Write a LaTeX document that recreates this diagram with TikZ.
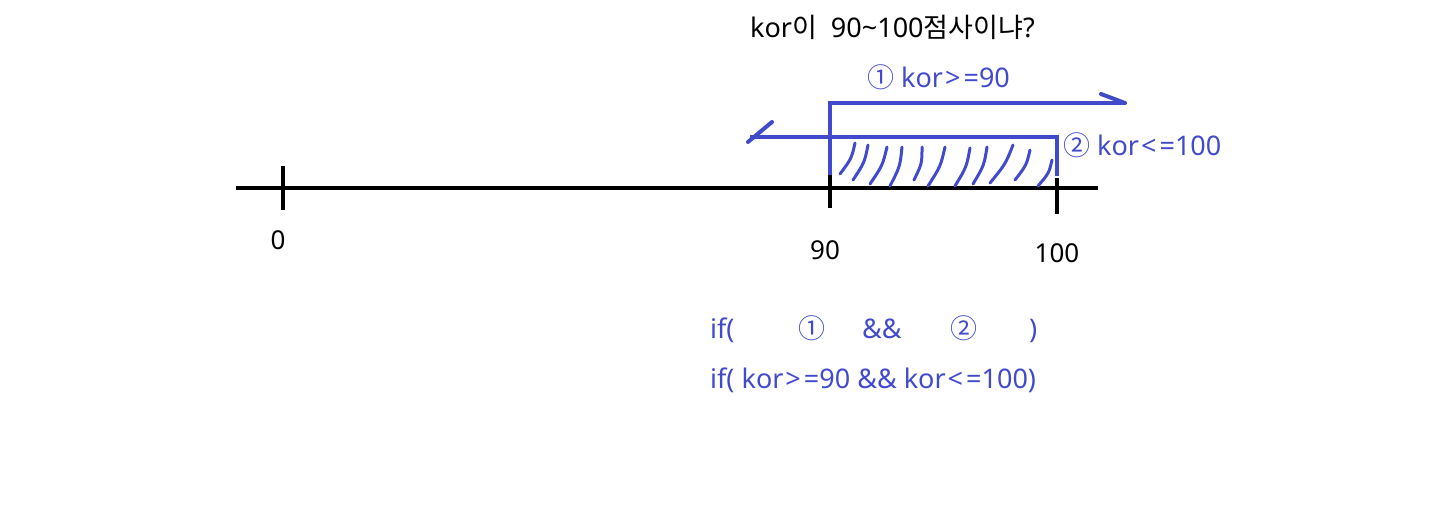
\documentclass[tikz,border=0pt]{standalone}
\usepackage{fontspec}
\setmainfont{Noto Sans}
\newfontfamily\krfont{Noto Sans CJK KR}
\usepackage{tikz}
\usepackage{xcolor}
\definecolor{penblue}{RGB}{66,74,204}
\newcommand{\gesign}{\kern2pt>\kern3pt=}
\newcommand{\lesign}{\kern2pt<\kern3pt=}

\begin{document}
\begin{tikzpicture}[x=1pt,y=-1pt]
  \tikzset{axisline/.style={draw=black,line width=4pt}}
  \tikzset{penline/.style={draw=penblue,line width=4pt}}
  \tikzset{hatchline/.style={draw=penblue,line width=3pt,line cap=round}}
  \tikzset{blacklabel/.style={font=\fontsize{26}{30}\selectfont,inner sep=0pt,text=black}}
  \tikzset{bluelabel/.style={font=\fontsize{27}{32}\selectfont,inner sep=0pt,text=penblue}}
  \useasboundingbox (0,0) rectangle (1440,532);
  % number line
  \coordinate (axl) at (236,188);
  \coordinate (axr) at (1098,188);
  \coordinate (t0a) at (283,166);
  \coordinate (t0b) at (283,210);
  \coordinate (t90a) at (830,175);
  \coordinate (t90b) at (830,208);
  \coordinate (t100a) at (1057,178);
  \coordinate (t100b) at (1057,214);
  \draw[axisline] (axl) -- (axr);
  \draw[axisline] (t0a) -- (t0b);
  \draw[axisline] (t90a) -- (t90b);
  \draw[axisline] (t100a) -- (t100b);
  \node[blacklabel,anchor=base] (l0) at (278,249) {0};
  \node[blacklabel,anchor=base] (l90) at (825,259) {90};
  \node[blacklabel,anchor=base] (l100) at (1057,262) {100};
  % question
  \node[blacklabel,font=\fontsize{27}{32}\selectfont,anchor=base west] (title) at (750,38) {kor{\krfont 이} \ 90\textasciitilde100{\krfont 점사이냐}?};
  % condition 1
  \coordinate (c1a) at (830,175);
  \coordinate (c1b) at (830,103);
  \coordinate (c1c) at (1125,103);
  \coordinate (c1d) at (1101,94);
  \draw[penline] (c1a) -- (c1b) -- (c1c);
  \draw[penline,line cap=round] (c1d) -- (c1c);
  \node[bluelabel,anchor=base west] (cond1) at (867,88) {{\krfont ①} kor\gesign90};
  % condition 2
  \coordinate (c2a) at (1057,176);
  \coordinate (c2b) at (1057,137);
  \coordinate (c2c) at (750,137);
  \coordinate (c2d) at (748,142);
  \coordinate (c2e) at (772,122);
  \draw[penline] (c2a) -- (c2b) -- (c2c);
  \draw[penline,line cap=round] (c2d) -- (c2e);
  \node[bluelabel,anchor=base west] (cond2) at (1063,156) {{\krfont ②} kor\lesign100};
  % hatching
  \foreach \xa/\ya/\xb/\yb in {855/143/840/174, 868/145/853/180, 887/147/870/184,
      902/147/890/186, 922/147/914/180, 945/147/928/186, 970/148/955/186,
      987/147/973/184, 1013/145/990/183, 1030/150/1015/180, 1052/160/1038/186}
    \draw[hatchline] (\xa,\ya) .. controls ({0.5*(\xa+\xb)+4},{0.5*(\ya+\yb)}) .. (\xb,\yb);
  % code lines
  \node[bluelabel,anchor=base west] (if1) at (710,338) {if(};
  \node[bluelabel,anchor=base west] (n1) at (798,338) {\krfont ①};
  \node[bluelabel,anchor=base west] (and1) at (862,338) {\&\&};
  \node[bluelabel,anchor=base west] (n2) at (950,338) {\krfont ②};
  \node[bluelabel,anchor=base west] (par1) at (1029,338) {)};
  \node[bluelabel,anchor=base west] (if2) at (710,388) {if( kor\gesign90 \&\& kor\lesign100)};
\end{tikzpicture}
\end{document}
